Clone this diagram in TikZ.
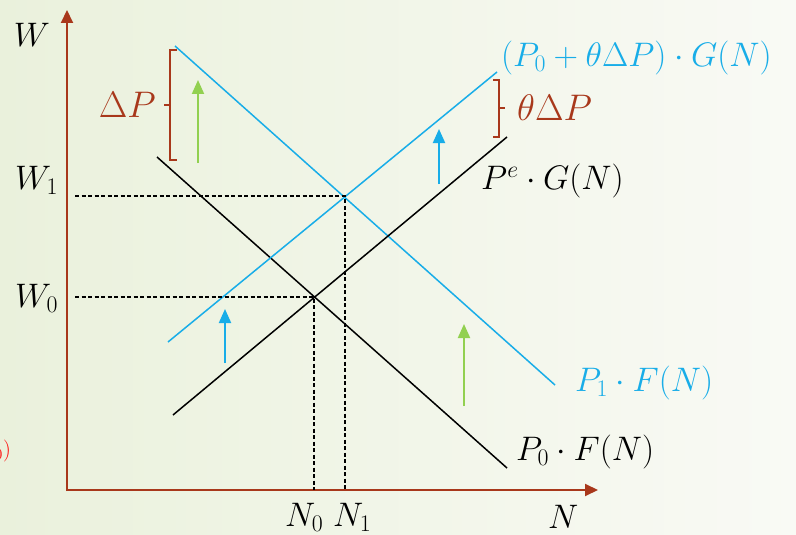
\RequirePackage{fix-cm}
\documentclass[tikz,border=0pt]{standalone}
\usepackage{amsmath}
\usepackage{xcolor}
\definecolor{axisred}{HTML}{A8381B}
\definecolor{shiftblue}{HTML}{18ADE8}
\definecolor{shiftgreen}{HTML}{92D050}
\definecolor{bgleft}{HTML}{EAF1DC}
\definecolor{bgright}{HTML}{F9FAF5}
\usetikzlibrary{arrows.meta, positioning}

\begin{document}
\begin{tikzpicture}[x=1pt, y=-1pt,
  axis/.style={draw=axisred, line width=2pt, -{Triangle[length=13pt,width=12pt]}},
  curve/.style={line width=1.5pt},
  guide/.style={line width=1.4pt, dash pattern=on 4pt off 2.5pt},
  shiftarrow/.style={line width=2pt, -{Triangle[length=14pt,width=12pt]}},
  bracket/.style={draw=axisred, line width=1.5pt},
  lbl/.style={font=\fontsize{34}{40}\selectfont, inner sep=0pt},
  biglbl/.style={font=\fontsize{37}{44}\selectfont, inner sep=0pt, text=axisred}
]
% background and page size
\shade[left color=bgleft, right color=bgright] (0,0) rectangle (796,535);
\useasboundingbox (0,0) rectangle (796,535);

% axes
\coordinate (origin) at (67,490);
\coordinate (wtop) at (67,10);
\coordinate (nend) at (598,490);
\draw[axis, shorten <=-1pt] (origin) -- (wtop);
\draw[axis, shorten <=-1pt] (origin) -- (nend);
\node[lbl, anchor=center] (wlab) at (32,35) {$W$};
\node[lbl, anchor=west] (nlab) at (548,517) {$N$};

% curves
\coordinate (dA) at (157,157);
\coordinate (dB) at (507,468);
\coordinate (dA') at (175,46);
\coordinate (dB') at (555,385);
\coordinate (sA) at (173,415);
\coordinate (sB) at (507,137);
\coordinate (sA') at (168,342);
\coordinate (sB') at (497,72);
\draw[curve] (dA) -- (dB);
\draw[curve, shiftblue] (dA') -- (dB');
\draw[curve] (sA) -- (sB);
\draw[curve, shiftblue] (sA') -- (sB');

% equilibria
\coordinate (E0) at (314,297);
\coordinate (E1) at (345,196);
\coordinate (w0) at (75,297);
\coordinate (w1) at (75,196);
\coordinate (n0) at (314,490);
\coordinate (n1) at (345,490);
\draw[guide] (w0) -- (E0) -- (n0);
\draw[guide] (w1) -- (E1) -- (n1);
\node[lbl, anchor=west] (w0lab) at (15,298) {$W_0$};
\node[lbl, anchor=west] (w1lab) at (15,180) {$W_1$};
\node[lbl, anchor=west] (n0lab) at (285,517) {$N_0$};
\node[lbl, anchor=west] (n1lab) at (333,517) {$N_1$};

% curve labels
\node[lbl, anchor=west, text=shiftblue] (gnew) at (501,58) {$(P_0+\theta\Delta P)\cdot G(N)$};
\node[lbl, anchor=west] (gold) at (481,181) {$P^e\cdot G(N)$};
\node[lbl, anchor=west, text=shiftblue] (fnew) at (575,383) {$P_1\cdot F(N)$};
\node[lbl, anchor=west] (fold) at (516,452) {$P_0\cdot F(N)$};

% shift arrows
\coordinate (g1a) at (198,163);
\coordinate (g1b) at (198,80);
\coordinate (g2a) at (464,406);
\coordinate (g2b) at (464,324);
\coordinate (b1a) at (225,363);
\coordinate (b1b) at (225,309);
\coordinate (b2a) at (439,184);
\coordinate (b2b) at (439,129);
\draw[shiftarrow, shiftgreen] (g1a) -- (g1b);
\draw[shiftarrow, shiftgreen] (g2a) -- (g2b);
\draw[shiftarrow, shiftblue] (b1a) -- (b1b);
\draw[shiftarrow, shiftblue] (b2a) -- (b2b);

% brackets
\draw[bracket] (177,50) -- (170,50) -- (170,160) -- (177,160);
\draw[bracket] (170,105) -- (164,105);
\node[biglbl, anchor=east] (dplab) at (156,105) {$\Delta P$};
\draw[bracket] (493,80) -- (499,80) -- (499,137) -- (493,137);
\draw[bracket] (499,108) -- (505,108);
\node[biglbl, anchor=west] (tdplab) at (517,108) {$\theta\Delta P$};

% clipped fragment at left edge
\node[inner sep=0pt, anchor=east, text=red, font=\fontsize{22}{26}\selectfont] (frag) at (11,451) {$(N_0)$};
\end{tikzpicture}
\end{document}
